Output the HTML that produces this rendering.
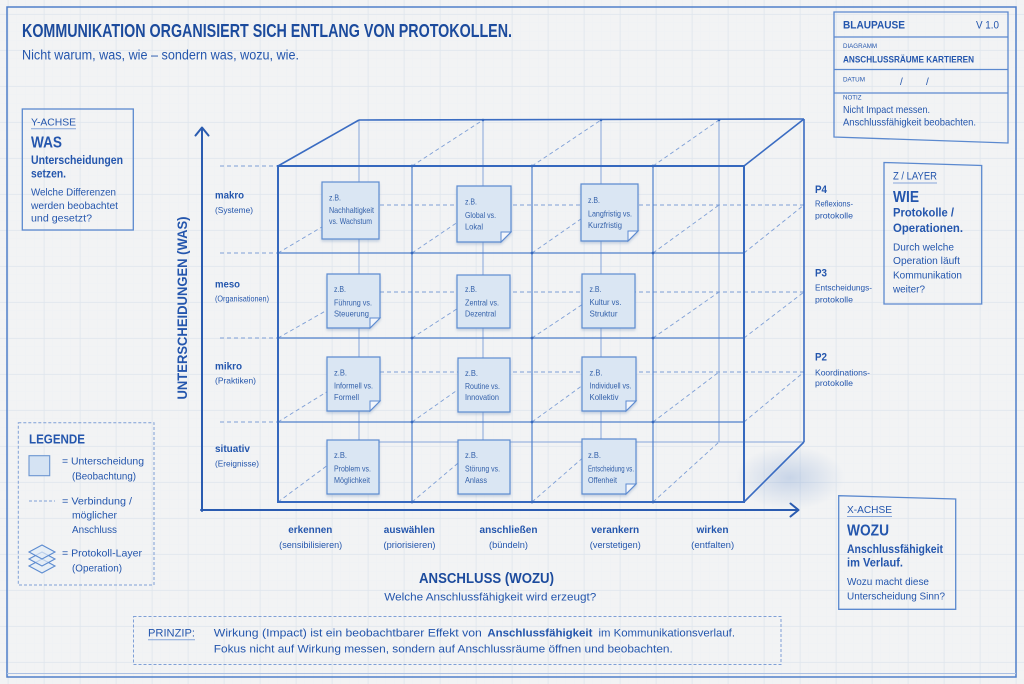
<!DOCTYPE html>
<html><head><meta charset="utf-8"><style>
html,body{margin:0;padding:0;background:#f2f3f4;}
svg{display:block;}
text{font-family:"Liberation Sans","DejaVu Sans",sans-serif;fill:#2456ad;}
.b{font-weight:bold;}
.t{fill:#1c4b9d;}
.n{fill:#3461aa;font-size:8.3px;}
</style></head><body>
<svg width="1024" height="684" viewBox="0 0 1024 684" xmlns="http://www.w3.org/2000/svg">
<defs>
<pattern id="minor" width="9" height="9" patternUnits="userSpaceOnUse" x="7.7" y="14"><path d="M9 0V9M0 9H9" stroke="#eceff3" stroke-width="0.5" fill="none"/></pattern>
<pattern id="major" width="36" height="36" patternUnits="userSpaceOnUse" x="7.7" y="14"><path d="M0 0.5H36M0.5 0V36" stroke="#e0e6ee" stroke-width="0.8" fill="none"/></pattern>
<radialGradient id="sh" cx="0.5" cy="0.5" r="0.5"><stop offset="0" stop-color="#5d87c8" stop-opacity="0.28"/><stop offset="1" stop-color="#5d87c8" stop-opacity="0"/></radialGradient>
<filter id="ds" x="-20%" y="-20%" width="140%" height="150%"><feDropShadow dx="0" dy="2" stdDeviation="1.4" flood-color="#6f8db8" flood-opacity="0.35"/></filter>
</defs>
<rect width="1024" height="684" fill="#f2f3f4"/>
<rect width="1024" height="684" fill="url(#minor)"/>
<rect width="1024" height="684" fill="url(#major)"/>
<!-- outer border -->
<rect x="7" y="7" width="1009" height="670" fill="none" stroke="#4f7fc9" stroke-width="1.5"/>
<line x1="7" y1="673.5" x2="1016" y2="673.5" stroke="#a9bfe3" stroke-width="1"/>

<!-- Title -->
<text x="22" y="37" class="b t" font-size="18.5" textLength="490" lengthAdjust="spacingAndGlyphs">KOMMUNIKATION ORGANISIERT SICH ENTLANG VON PROTOKOLLEN.</text>
<text x="22" y="59.5" font-size="13.5" textLength="277" lengthAdjust="spacingAndGlyphs">Nicht warum, was, wie – sondern was, wozu, wie.</text>

<!-- Blueprint box -->
<g fill="none" stroke="#5b89cf" stroke-width="1.3">
<polygon points="834,12 1008,12 1008,143 834,137"/>
<line x1="834" y1="37" x2="1008" y2="37"/>
<line x1="834" y1="69.5" x2="1008" y2="69.5"/>
<line x1="834" y1="93" x2="1008" y2="93"/>
</g>
<text x="843" y="28.3" class="b" font-size="11" textLength="62" lengthAdjust="spacingAndGlyphs">BLAUPAUSE</text>
<text x="999" y="28.3" font-size="11" text-anchor="end" textLength="23" lengthAdjust="spacingAndGlyphs">V 1.0</text>
<text x="843" y="48.2" font-size="6.2" textLength="34" lengthAdjust="spacingAndGlyphs">DIAGRAMM</text>
<text x="843" y="62.7" class="b" font-size="9.5" textLength="131" lengthAdjust="spacingAndGlyphs">ANSCHLUSSRÄUME KARTIEREN</text>
<text x="843" y="81.5" font-size="6.2" textLength="22" lengthAdjust="spacingAndGlyphs">DATUM</text>
<text x="900" y="85" font-size="10">/</text>
<text x="926" y="85" font-size="10">/</text>
<text x="843" y="99.5" font-size="6.2">NOTIZ</text>
<text x="843" y="113" font-size="10.5" textLength="87" lengthAdjust="spacingAndGlyphs">Nicht Impact messen.</text>
<text x="843" y="125.7" font-size="10.5" textLength="133" lengthAdjust="spacingAndGlyphs">Anschlussfähigkeit beobachten.</text>

<!-- Y-ACHSE box -->
<rect x="22.3" y="109" width="111" height="121" fill="none" stroke="#5b89cf" stroke-width="1.3"/>
<text x="31" y="125.5" font-size="10.5" textLength="45" lengthAdjust="spacingAndGlyphs">Y-ACHSE</text>
<line x1="31" y1="128.8" x2="76" y2="128.8" stroke="#86a6da" stroke-width="1"/>
<text x="31" y="147.5" class="b" font-size="16" textLength="31" lengthAdjust="spacingAndGlyphs">WAS</text>
<text x="31" y="164.2" class="b" font-size="12" textLength="92" lengthAdjust="spacingAndGlyphs">Unterscheidungen</text>
<text x="31" y="177.5" class="b" font-size="12" textLength="35" lengthAdjust="spacingAndGlyphs">setzen.</text>
<text x="31" y="195.3" font-size="10.5" textLength="85" lengthAdjust="spacingAndGlyphs">Welche Differenzen</text>
<text x="31" y="209" font-size="10.5" textLength="87" lengthAdjust="spacingAndGlyphs">werden beobachtet</text>
<text x="31" y="221.7" font-size="10.5" textLength="61" lengthAdjust="spacingAndGlyphs">und gesetzt?</text>

<!-- Z / LAYER box -->
<polygon points="884,162.5 981.7,165.5 981.7,304 884,304" fill="none" stroke="#5b89cf" stroke-width="1.3"/>
<text x="893" y="179.5" font-size="11" textLength="44" lengthAdjust="spacingAndGlyphs">Z / LAYER</text>
<line x1="893" y1="183" x2="937" y2="183" stroke="#86a6da" stroke-width="1"/>
<text x="893" y="201.8" class="b" font-size="16" textLength="26" lengthAdjust="spacingAndGlyphs">WIE</text>
<text x="893" y="216.5" class="b" font-size="12" textLength="61" lengthAdjust="spacingAndGlyphs">Protokolle /</text>
<text x="893" y="231.9" class="b" font-size="12" textLength="70" lengthAdjust="spacingAndGlyphs">Operationen.</text>
<text x="893" y="250.5" font-size="10.5" textLength="61" lengthAdjust="spacingAndGlyphs">Durch welche</text>
<text x="893" y="264" font-size="10.5" textLength="67" lengthAdjust="spacingAndGlyphs">Operation läuft</text>
<text x="893" y="278.4" font-size="10.5" textLength="69" lengthAdjust="spacingAndGlyphs">Kommunikation</text>
<text x="893" y="292.4" font-size="10.5" textLength="32" lengthAdjust="spacingAndGlyphs">weiter?</text>

<!-- X-ACHSE box -->
<polygon points="838.7,495.7 955.7,499 955.7,609.3 838.7,609.3" fill="none" stroke="#5b89cf" stroke-width="1.3"/>
<text x="847" y="513" font-size="10.5" textLength="45" lengthAdjust="spacingAndGlyphs">X-ACHSE</text>
<line x1="847" y1="516.5" x2="892" y2="516.5" stroke="#86a6da" stroke-width="1"/>
<text x="847" y="535.5" class="b" font-size="16" textLength="42" lengthAdjust="spacingAndGlyphs">WOZU</text>
<text x="847" y="553" class="b" font-size="12" textLength="96" lengthAdjust="spacingAndGlyphs">Anschlussfähigkeit</text>
<text x="847" y="566.3" class="b" font-size="12" textLength="56" lengthAdjust="spacingAndGlyphs">im Verlauf.</text>
<text x="847" y="585" font-size="10.5" textLength="82" lengthAdjust="spacingAndGlyphs">Wozu macht diese</text>
<text x="847" y="599.4" font-size="10.5" textLength="98" lengthAdjust="spacingAndGlyphs">Unterscheidung Sinn?</text>

<!-- cube shadow -->
<ellipse cx="790" cy="478" rx="55" ry="32" fill="url(#sh)"/>

<!-- back face verticals -->
<g stroke="#86a6da" stroke-width="1" fill="none">
<line x1="359" y1="120" x2="359" y2="442"/>
<line x1="483" y1="120" x2="483" y2="442"/>
<line x1="601" y1="120" x2="601" y2="442"/>
<line x1="719" y1="120" x2="719" y2="442"/>
<line x1="359" y1="442" x2="804" y2="442"/>
</g>
<g stroke="#7e9fd6" stroke-width="0.9" stroke-dasharray="4 3" fill="none">
<line x1="359" y1="205" x2="804" y2="205"/>
<line x1="359" y1="292" x2="804" y2="292"/>
<line x1="359" y1="372" x2="804" y2="372"/>
<line x1="220" y1="166" x2="278" y2="166"/>
<line x1="220" y1="253" x2="278" y2="253"/>
<line x1="220" y1="338" x2="278" y2="338"/>
<line x1="220" y1="422" x2="278" y2="422"/>
<line x1="412" y1="166" x2="483" y2="120"/>
<line x1="532" y1="166" x2="601" y2="120"/>
<line x1="653" y1="166" x2="719" y2="120"/>
<line x1="278" y1="253" x2="359" y2="205"/><line x1="412" y1="253" x2="483" y2="205"/><line x1="532" y1="253" x2="601" y2="205"/><line x1="653" y1="253" x2="719" y2="205"/><line x1="744" y1="253" x2="804" y2="205"/>
<line x1="278" y1="338" x2="359" y2="292"/><line x1="412" y1="338" x2="483" y2="292"/><line x1="532" y1="338" x2="601" y2="292"/><line x1="653" y1="338" x2="719" y2="292"/><line x1="744" y1="338" x2="804" y2="292"/>
<line x1="278" y1="422" x2="359" y2="372"/><line x1="412" y1="422" x2="483" y2="372"/><line x1="532" y1="422" x2="601" y2="372"/><line x1="653" y1="422" x2="719" y2="372"/><line x1="744" y1="422" x2="804" y2="372"/>
<line x1="278" y1="502" x2="359" y2="442"/><line x1="412" y1="502" x2="483" y2="442"/><line x1="532" y1="502" x2="601" y2="442"/><line x1="653" y1="502" x2="719" y2="442"/>
</g>
<!-- solid cube edges -->
<g stroke="#3a6cc2" stroke-width="1.6" fill="none">
<line x1="359" y1="120" x2="804" y2="119"/>
<line x1="804" y1="119" x2="804" y2="442"/>
<line x1="278" y1="166" x2="359" y2="120"/>
<line x1="744" y1="166" x2="804" y2="119"/>
<line x1="744" y1="502" x2="804" y2="442"/>
</g>
<!-- front face grid -->
<g stroke="#4f80cb" stroke-width="1.2" fill="none">
<line x1="412" y1="166" x2="412" y2="502"/>
<line x1="532" y1="166" x2="532" y2="502"/>
<line x1="653" y1="166" x2="653" y2="502"/>
<line x1="278" y1="253" x2="744" y2="253"/>
<line x1="278" y1="338" x2="744" y2="338"/>
<line x1="278" y1="422" x2="744" y2="422"/>
</g>
<rect x="278" y="166" width="466" height="336" fill="none" stroke="#3568be" stroke-width="2"/>
<g fill="#3568be">
<circle cx="412" cy="166" r="1.4"/><circle cx="532" cy="166" r="1.4"/><circle cx="653" cy="166" r="1.4"/>
<circle cx="412" cy="253" r="1.4"/><circle cx="532" cy="253" r="1.4"/><circle cx="653" cy="253" r="1.4"/>
<circle cx="412" cy="338" r="1.4"/><circle cx="532" cy="338" r="1.4"/><circle cx="653" cy="338" r="1.4"/>
<circle cx="412" cy="422" r="1.4"/><circle cx="532" cy="422" r="1.4"/><circle cx="653" cy="422" r="1.4"/>
<circle cx="412" cy="502" r="1.4"/><circle cx="532" cy="502" r="1.4"/><circle cx="653" cy="502" r="1.4"/>
<circle cx="483" cy="120" r="1.3"/><circle cx="601" cy="120" r="1.3"/><circle cx="719" cy="120" r="1.3"/>
</g>

<!-- Sticky notes -->
<g filter="url(#ds)" fill="#dae6f3" stroke="#5c8bd0" stroke-width="1.2">
<rect x="322" y="182" width="57" height="57"/>
<polygon points="457,186 511,186 511,232 501,242 457,242"/>
<polygon points="581,184 638,184 638,231 628,241 581,241"/>
<polygon points="327,274 380,274 380,318 370,328 327,328"/>
<rect x="457" y="275" width="53" height="53"/>
<rect x="582" y="274" width="53" height="54"/>
<polygon points="327,357 380,357 380,401 370,411 327,411"/>
<rect x="458" y="358" width="52" height="54"/>
<polygon points="582,357 636,357 636,401 626,411 582,411"/>
<rect x="327" y="440" width="52" height="54"/>
<rect x="458" y="440" width="52" height="54"/>
<polygon points="582,439 636,439 636,484 626,494 582,494"/>
</g>
<g fill="#f3f6fb" stroke="#5c8bd0" stroke-width="1">
<polygon points="511,232 501,232 501,242"/>
<polygon points="638,231 628,231 628,241"/>
<polygon points="380,318 370,318 370,328"/>
<polygon points="380,401 370,401 370,411"/>
<polygon points="636,401 626,401 626,411"/>
<polygon points="636,484 626,484 626,494"/>
</g>
<!-- note texts -->
<g class="n">
<text x="329" y="200.5" class="n" textLength="12" lengthAdjust="spacingAndGlyphs">z.B.</text>
<text x="329" y="213.1" class="n" textLength="45" lengthAdjust="spacingAndGlyphs">Nachhaltigkeit</text>
<text x="329" y="224.1" class="n" textLength="43" lengthAdjust="spacingAndGlyphs">vs. Wachstum</text>

<text x="465" y="204.5" class="n" textLength="12" lengthAdjust="spacingAndGlyphs">z.B.</text>
<text x="465" y="218.1" class="n" textLength="31" lengthAdjust="spacingAndGlyphs">Global vs.</text>
<text x="465" y="229.5" class="n" textLength="18" lengthAdjust="spacingAndGlyphs">Lokal</text>

<text x="588" y="202.8" class="n" textLength="12" lengthAdjust="spacingAndGlyphs">z.B.</text>
<text x="588" y="216.5" class="n" textLength="44" lengthAdjust="spacingAndGlyphs">Langfristig vs.</text>
<text x="588" y="227.8" class="n" textLength="34" lengthAdjust="spacingAndGlyphs">Kurzfristig</text>

<text x="334" y="292.1" class="n" textLength="12" lengthAdjust="spacingAndGlyphs">z.B.</text>
<text x="334" y="305.5" class="n" textLength="38" lengthAdjust="spacingAndGlyphs">Führung vs.</text>
<text x="334" y="316.5" class="n" textLength="35" lengthAdjust="spacingAndGlyphs">Steuerung</text>

<text x="465" y="292.1" class="n" textLength="12" lengthAdjust="spacingAndGlyphs">z.B.</text>
<text x="465" y="305.5" class="n" textLength="34" lengthAdjust="spacingAndGlyphs">Zentral vs.</text>
<text x="465" y="316.5" class="n" textLength="31" lengthAdjust="spacingAndGlyphs">Dezentral</text>

<text x="589.5" y="292.1" class="n" textLength="12" lengthAdjust="spacingAndGlyphs">z.B.</text>
<text x="589.5" y="305.1" class="n" textLength="32" lengthAdjust="spacingAndGlyphs">Kultur vs.</text>
<text x="589.5" y="316.5" class="n" textLength="28" lengthAdjust="spacingAndGlyphs">Struktur</text>

<text x="334" y="375.5" class="n" textLength="13" lengthAdjust="spacingAndGlyphs">z.B.</text>
<text x="334" y="388.5" class="n" textLength="39" lengthAdjust="spacingAndGlyphs">Informell vs.</text>
<text x="334" y="399.8" class="n" textLength="25" lengthAdjust="spacingAndGlyphs">Formell</text>

<text x="465" y="375.8" class="n" textLength="13" lengthAdjust="spacingAndGlyphs">z.B.</text>
<text x="465" y="388.8" class="n" textLength="35" lengthAdjust="spacingAndGlyphs">Routine vs.</text>
<text x="465" y="400.1" class="n" textLength="34" lengthAdjust="spacingAndGlyphs">Innovation</text>

<text x="589.5" y="375.5" class="n" textLength="13" lengthAdjust="spacingAndGlyphs">z.B.</text>
<text x="589.5" y="388.5" class="n" textLength="42" lengthAdjust="spacingAndGlyphs">Individuell vs.</text>
<text x="589.5" y="399.8" class="n" textLength="29" lengthAdjust="spacingAndGlyphs">Kollektiv</text>

<text x="334" y="458.1" class="n" textLength="13" lengthAdjust="spacingAndGlyphs">z.B.</text>
<text x="334" y="471.5" class="n" textLength="37" lengthAdjust="spacingAndGlyphs">Problem vs.</text>
<text x="334" y="482.8" class="n" textLength="36" lengthAdjust="spacingAndGlyphs">Möglichkeit</text>

<text x="465" y="458.1" class="n" textLength="13" lengthAdjust="spacingAndGlyphs">z.B.</text>
<text x="465" y="471.5" class="n" textLength="35" lengthAdjust="spacingAndGlyphs">Störung vs.</text>
<text x="465" y="482.8" class="n" textLength="22" lengthAdjust="spacingAndGlyphs">Anlass</text>

<text x="588" y="458.1" class="n" textLength="13" lengthAdjust="spacingAndGlyphs">z.B.</text>
<text x="588" y="471.5" class="n" textLength="46" lengthAdjust="spacingAndGlyphs">Entscheidung vs.</text>
<text x="588" y="482.8" class="n" textLength="29" lengthAdjust="spacingAndGlyphs">Offenheit</text>
</g>

<!-- axes -->
<g stroke="#2a5bb0" stroke-width="2" fill="none" stroke-linecap="round" stroke-linejoin="round">
<line x1="202" y1="511" x2="202" y2="128"/>
<polyline points="195.5,135.5 202,127.5 208.5,135.5"/>
<line x1="201" y1="510" x2="798" y2="510"/>
<polyline points="790.5,503.5 798.5,510 790.5,516.5"/>
</g>
<text transform="translate(187,308) rotate(-90)" text-anchor="middle" class="b" font-size="14" textLength="183" lengthAdjust="spacingAndGlyphs">UNTERSCHEIDUNGEN (WAS)</text>

<!-- row labels -->
<text x="215" y="198.7" class="b" font-size="10.5" textLength="29" lengthAdjust="spacingAndGlyphs">makro</text>
<text x="215" y="213" font-size="8.5" textLength="38" lengthAdjust="spacingAndGlyphs">(Systeme)</text>
<text x="215" y="287.4" class="b" font-size="10.5" textLength="25" lengthAdjust="spacingAndGlyphs">meso</text>
<text x="215" y="301.7" font-size="8.5" textLength="54" lengthAdjust="spacingAndGlyphs">(Organisationen)</text>
<text x="215" y="369.4" class="b" font-size="10.5" textLength="27" lengthAdjust="spacingAndGlyphs">mikro</text>
<text x="215" y="383.7" font-size="8.5" textLength="41" lengthAdjust="spacingAndGlyphs">(Praktiken)</text>
<text x="215" y="452" class="b" font-size="10.5" textLength="35" lengthAdjust="spacingAndGlyphs">situativ</text>
<text x="215" y="466.7" font-size="8.5" textLength="44" lengthAdjust="spacingAndGlyphs">(Ereignisse)</text>

<!-- P labels -->
<text x="815" y="193" class="b" font-size="11" textLength="12" lengthAdjust="spacingAndGlyphs">P4</text>
<text x="815" y="206.7" font-size="8.5" textLength="38" lengthAdjust="spacingAndGlyphs">Reflexions-</text>
<text x="815" y="218.7" font-size="8.5" textLength="38" lengthAdjust="spacingAndGlyphs">protokolle</text>
<text x="815" y="276.5" class="b" font-size="11" textLength="12" lengthAdjust="spacingAndGlyphs">P3</text>
<text x="815" y="290.3" font-size="8.5" textLength="57" lengthAdjust="spacingAndGlyphs">Entscheidungs-</text>
<text x="815" y="302.3" font-size="8.5" textLength="38" lengthAdjust="spacingAndGlyphs">protokolle</text>
<text x="815" y="360.5" class="b" font-size="11" textLength="12" lengthAdjust="spacingAndGlyphs">P2</text>
<text x="815" y="375.3" font-size="8.5" textLength="55" lengthAdjust="spacingAndGlyphs">Koordinations-</text>
<text x="815" y="386" font-size="8.5" textLength="38" lengthAdjust="spacingAndGlyphs">protokolle</text>

<!-- column labels -->
<g text-anchor="middle">
<text x="310.3" y="533" class="b" font-size="10.5" textLength="44" lengthAdjust="spacingAndGlyphs">erkennen</text>
<text x="310.7" y="548" font-size="9" textLength="63" lengthAdjust="spacingAndGlyphs">(sensibilisieren)</text>
<text x="409.3" y="533" class="b" font-size="10.5" textLength="51" lengthAdjust="spacingAndGlyphs">auswählen</text>
<text x="409.5" y="548" font-size="9" textLength="52" lengthAdjust="spacingAndGlyphs">(priorisieren)</text>
<text x="508.5" y="533" class="b" font-size="10.5" textLength="58" lengthAdjust="spacingAndGlyphs">anschließen</text>
<text x="508.5" y="548" font-size="9" textLength="39" lengthAdjust="spacingAndGlyphs">(bündeln)</text>
<text x="615.2" y="533" class="b" font-size="10.5" textLength="48" lengthAdjust="spacingAndGlyphs">verankern</text>
<text x="615.3" y="548" font-size="9" textLength="51" lengthAdjust="spacingAndGlyphs">(verstetigen)</text>
<text x="712.5" y="533" class="b" font-size="10.5" textLength="32" lengthAdjust="spacingAndGlyphs">wirken</text>
<text x="712.7" y="548" font-size="9" textLength="43" lengthAdjust="spacingAndGlyphs">(entfalten)</text>
</g>
<text x="419" y="583" class="b t" font-size="14.5" textLength="135" lengthAdjust="spacingAndGlyphs">ANSCHLUSS (WOZU)</text>
<text x="384.3" y="600.5" font-size="11" textLength="212" lengthAdjust="spacingAndGlyphs">Welche Anschlussfähigkeit wird erzeugt?</text>

<!-- Legend -->
<rect x="18.3" y="422.7" width="135.7" height="162.3" fill="none" stroke="#7e9fd6" stroke-width="1" stroke-dasharray="3 2"/>
<text x="29" y="443.5" class="b" font-size="13" textLength="56" lengthAdjust="spacingAndGlyphs">LEGENDE</text>
<rect x="29" y="455.7" width="20.7" height="20" fill="#d5e3f3" stroke="#6b95d0" stroke-width="1.1"/>
<text x="62" y="464.7" font-size="10.5" textLength="82" lengthAdjust="spacingAndGlyphs">= Unterscheidung</text>
<text x="72" y="479.7" font-size="10.5" textLength="64" lengthAdjust="spacingAndGlyphs">(Beobachtung)</text>
<line x1="29" y1="501" x2="55" y2="501" stroke="#7e9fd6" stroke-width="1" stroke-dasharray="3 2"/>
<text x="62" y="504.4" font-size="10.5" textLength="70" lengthAdjust="spacingAndGlyphs">= Verbindung /</text>
<text x="72" y="518.4" font-size="10.5" textLength="45" lengthAdjust="spacingAndGlyphs">möglicher</text>
<text x="72" y="533" font-size="10.5" textLength="45" lengthAdjust="spacingAndGlyphs">Anschluss</text>
<g fill="#e3ecf7" fill-opacity="0.7" stroke="#5c8bd0" stroke-width="1.1">
<polygon points="42,559 55,566 42,573 29,566"/>
<polygon points="42,552 55,559 42,566 29,559"/>
<polygon points="42,545 55,552 42,559 29,552"/>
</g>
<text x="62" y="556.4" font-size="10.5" textLength="80" lengthAdjust="spacingAndGlyphs">= Protokoll-Layer</text>
<text x="72" y="571.4" font-size="10.5" textLength="50" lengthAdjust="spacingAndGlyphs">(Operation)</text>

<!-- Principle -->
<rect x="133.5" y="616.5" width="647.5" height="48" fill="none" stroke="#7e9fd6" stroke-width="1" stroke-dasharray="3 2"/>
<text x="148" y="636.5" font-size="11" textLength="47" lengthAdjust="spacingAndGlyphs">PRINZIP:</text>
<line x1="148" y1="639.8" x2="195" y2="639.8" stroke="#86a6da" stroke-width="1"/>
<text x="213.8" y="636.5" font-size="11" textLength="268" lengthAdjust="spacingAndGlyphs">Wirkung (Impact) ist ein beobachtbarer Effekt von</text>
<text x="487.4" y="636.5" class="b" font-size="11" textLength="105" lengthAdjust="spacingAndGlyphs">Anschlussfähigkeit</text>
<text x="598.5" y="636.5" font-size="11" textLength="136.5" lengthAdjust="spacingAndGlyphs">im Kommunikationsverlauf.</text>
<text x="213.8" y="652.5" font-size="11" textLength="459" lengthAdjust="spacingAndGlyphs">Fokus nicht auf Wirkung messen, sondern auf Anschlussräume öffnen und beobachten.</text>
</svg>
</body></html>
